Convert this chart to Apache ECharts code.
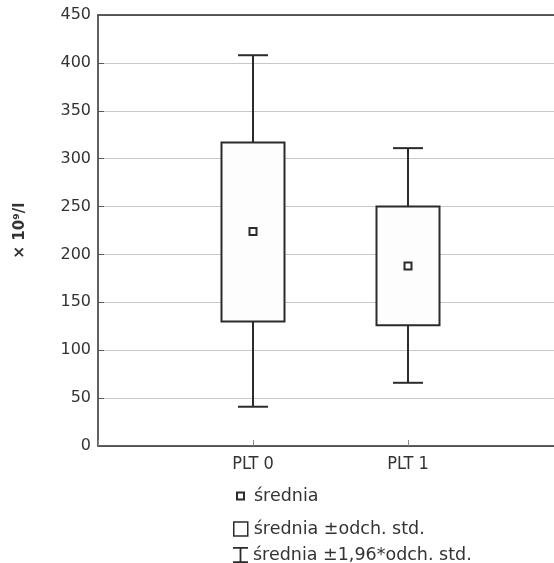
<!DOCTYPE html>
<html>
<head>
<meta charset="utf-8">
<script src="https://cdn.jsdelivr.net/npm/echarts@6/dist/echarts.min.js"></script>
<style>
  html, body { margin: 0; padding: 0; background: #fff; }
  #main { width: 554px; height: 563px; }
</style>
</head>
<body>
<div id="main"></div>
<script>
// dane
var categories = ['PLT 0', 'PLT 1'];
var means = [224, 188];
var sdLow = [130, 126];
var sdHigh = [317, 250];
var ciLow = [41, 66];
var ciHigh = [408, 311];
var yTicks = [0, 50, 100, 150, 200, 250, 300, 350, 400, 450];

var FONT = 'DejaVu Sans';
var DARK = '#2b2b2b';

var boxData = [], whiskerData = [], meanData = [];
categories.forEach(function (c, i) {
  boxData.push([i + 1, sdLow[i], sdHigh[i]]);
  whiskerData.push([i + 1, ciLow[i], sdLow[i], sdHigh[i], ciHigh[i]]);
  meanData.push([i + 1, means[i]]);
});

var chart = echarts.init(document.getElementById('main'));

var legendBase = function (name, icon, w, h, style, left, top, pad) {
  return {
    data: [name],
    left: left,
    top: top,
    icon: icon,
    itemWidth: w,
    itemHeight: h,
    itemGap: 0,
    selectedMode: false,
    itemStyle: style,
    textStyle: { fontFamily: FONT, fontSize: 17.5, color: '#333', padding: [0, 0, 0, pad] }
  };
};

chart.setOption({
  animation: false,
  grid: { left: 98, top: 15, right: -9, bottom: 117, outerBoundsMode: 'none' },
  xAxis: [
    {
      type: 'value',
      min: 0,
      max: 3,
      interval: 1,
      axisLine: { lineStyle: { color: DARK, width: 1.5 } },
      axisTick: { inside: true, length: 6, lineStyle: { color: '#888' } },
      axisLabel: {
        fontFamily: 'DejaVu Sans Condensed', fontSize: 18, color: '#333', margin: 9,
        formatter: function (v) { return categories[v - 1] || ''; }
      },
      splitLine: { show: false }
    },
    {
      type: 'value',
      position: 'top',
      min: 0,
      max: 3,
      axisLine: { show: true, lineStyle: { color: DARK, width: 1.5 } },
      axisTick: { show: false },
      axisLabel: { show: false },
      splitLine: { show: false }
    }
  ],
  yAxis: {
    type: 'value',
    min: yTicks[0],
    max: yTicks[yTicks.length - 1],
    interval: 50,
    name: '× 10⁹/l',
    nameLocation: 'middle',
    nameRotate: 90,
    nameGap: 70,
    nameTextStyle: { fontFamily: FONT, fontSize: 15, fontWeight: 'bold', color: '#333' },
    axisLine: { show: true, lineStyle: { color: DARK, width: 1.5 } },
    axisTick: { show: true, inside: true, length: 6, lineStyle: { color: '#555' } },
    axisLabel: { fontFamily: FONT, fontSize: 16, color: '#333', margin: 7 },
    splitLine: { lineStyle: { color: '#c8c8c8', width: 1 } }
  },
  legend: [
    legendBase('średnia', 'rect', 7, 7,
      { color: '#fff', borderColor: DARK, borderWidth: 2 }, 231, 482, 5),
    legendBase('średnia ±odch. std.', 'rect', 14, 14,
      { color: '#fff', borderColor: DARK, borderWidth: 1.5 }, 228, 515, 1),
    legendBase('średnia ±1,96*odch. std.', 'path://M0 0H15V1.8H8.4V14.2H15V16H0V14.2H6.6V1.8H0Z', 15, 16,
      { color: DARK, borderWidth: 0 }, 228, 541, 0)
  ],
  series: [
    {
      name: 'średnia ±1,96*odch. std.',
      type: 'custom',
      data: whiskerData,
      renderItem: function (params, api) {
        var x = api.value(0);
        var pLow = api.coord([x, api.value(1)]);
        var pBoxL = api.coord([x, api.value(2)]);
        var pBoxH = api.coord([x, api.value(3)]);
        var pHigh = api.coord([x, api.value(4)]);
        var cap = 15;
        var st = { stroke: DARK, lineWidth: 2 };
        return {
          type: 'group',
          children: [
            { type: 'line', shape: { x1: pLow[0], y1: pLow[1], x2: pBoxL[0], y2: pBoxL[1] }, style: st },
            { type: 'line', shape: { x1: pBoxH[0], y1: pBoxH[1], x2: pHigh[0], y2: pHigh[1] }, style: st },
            { type: 'line', shape: { x1: pLow[0] - cap, y1: pLow[1], x2: pLow[0] + cap, y2: pLow[1] }, style: st },
            { type: 'line', shape: { x1: pHigh[0] - cap, y1: pHigh[1], x2: pHigh[0] + cap, y2: pHigh[1] }, style: st }
          ]
        };
      }
    },
    {
      name: 'średnia ±odch. std.',
      type: 'custom',
      data: boxData,
      renderItem: function (params, api) {
        var x = api.value(0);
        var lo = api.coord([x, api.value(1)]);
        var hi = api.coord([x, api.value(2)]);
        var half = 31.5;
        return {
          type: 'rect',
          shape: { x: lo[0] - half, y: hi[1], width: half * 2, height: lo[1] - hi[1] },
          style: { fill: '#fdfdfd', stroke: DARK, lineWidth: 2 }
        };
      }
    },
    {
      name: 'średnia',
      type: 'scatter',
      data: meanData,
      symbol: 'rect',
      symbolSize: 7,
      itemStyle: { color: '#fff', borderColor: DARK, borderWidth: 2, opacity: 1 }
    }
  ]
});
</script>
</body>
</html>
